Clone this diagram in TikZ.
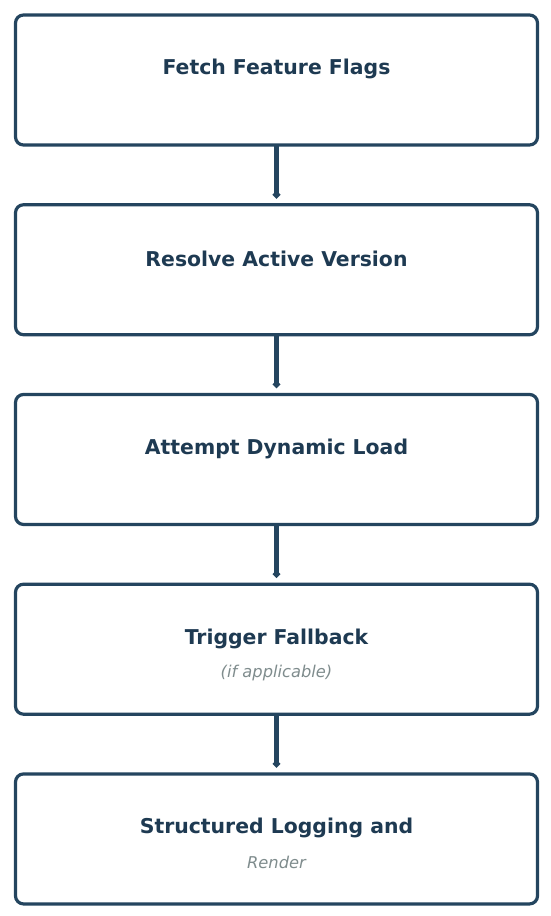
\documentclass[tikz,border=0pt]{standalone}
\usepackage{fontspec}
\setmainfont{DejaVu Sans}
\usetikzlibrary{arrows.meta,positioning}
\definecolor{BoxBorder}{HTML}{24455F}
\definecolor{TitleColor}{HTML}{1E3A52}
\definecolor{NoteColor}{HTML}{7F8C8D}

\begin{document}
\begin{tikzpicture}[x=0.75pt,y=-0.75pt,
  box/.style={draw=BoxBorder, line width=2.4pt, rounded corners=6pt,
              minimum width=391.5pt, minimum height=97.5pt,
              outer sep=0pt, fill=white},
  title/.style={font=\fontsize{15.3}{18}\selectfont\bfseries, text=TitleColor},
  note/.style={font=\fontsize{12.2}{14}\selectfont\itshape, text=NoteColor},
  arr/.style={-{Circle[length=5pt]}, line width=3.2pt, draw=BoxBorder,
              shorten >=5pt}
]
  \useasboundingbox (0,0) rectangle (550,916);
  % boxes
  \node[box] (fetch) at (276.5,80) {};
  \node[box, below=44.8pt of fetch] (resolve) {};
  \node[box, below=44.8pt of resolve] (attempt) {};
  \node[box, below=44.8pt of attempt] (fallback) {};
  \node[box, below=44.8pt of fallback] (logging) {};
  % texts
  \node[title] (fetch-t) at ([yshift=8pt]fetch.center) {Fetch Feature Flags};
  \node[title] (resolve-t) at ([yshift=8pt]resolve.center) {Resolve Active Version};
  \node[title] (attempt-t) at ([yshift=8pt]attempt.center) {Attempt Dynamic Load};
  \node[title] (fallback-t) at ([yshift=8pt]fallback.center) {Trigger Fallback};
  \node[note] (fallback-n) at ([yshift=-17.5pt]fallback.center) {(if applicable)};
  \node[title] (logging-t) at ([yshift=8pt]logging.center) {Structured Logging and};
  \node[note] (logging-n) at ([yshift=-17.5pt]logging.center) {Render};
  % arrows
  \draw[arr] (fetch) -- (resolve);
  \draw[arr] (resolve) -- (attempt);
  \draw[arr] (attempt) -- (fallback);
  \draw[arr] (fallback) -- (logging);
\end{tikzpicture}
\end{document}
